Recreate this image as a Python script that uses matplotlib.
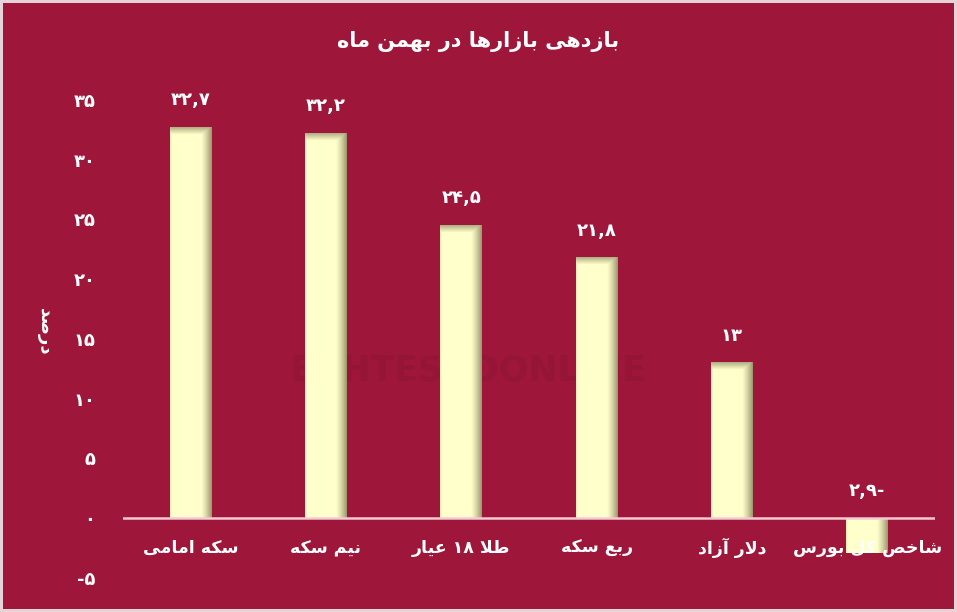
import re
import numpy as np
import matplotlib
matplotlib.use("Agg")
import matplotlib.pyplot as plt

# --- data ---
categories = ["سکه امامی", "نیم سکه", "طلا ۱۸ عیار", "ربع سکه", "دلار آزاد", "شاخص کل بورس"]
values = [32.7, 32.2, 24.5, 21.8, 13, -2.9]
yticks = [-5, 0, 5, 10, 15, 20, 25, 30, 35]
title = "بازدهی بازارها در بهمن ماه"
ylabel = "درصد"

BG = "#9e1639"
BAR = np.array([255, 255, 204]) / 255.0
DARK = np.array([105, 100, 62]) / 255.0

# --- simple persian shaping (matplotlib has no complex text layout) ---
# char: (isolated, final, initial, medial) ; None for non-joining letters
FORMS = {
    "ا": ("\uFE8D", "\uFE8E", None, None),
    "آ": ("\uFE81", "\uFE82", None, None),
    "ب": ("\uFE8F", "\uFE90", "\uFE91", "\uFE92"),
    "ت": ("\uFE95", "\uFE96", "\uFE97", "\uFE98"),
    "خ": ("\uFEA5", "\uFEA6", "\uFEA7", "\uFEA8"),
    "د": ("\uFEA9", "\uFEAA", None, None),
    "ر": ("\uFEAD", "\uFEAE", None, None),
    "ز": ("\uFEAF", "\uFEB0", None, None),
    "س": ("\uFEB1", "\uFEB2", "\uFEB3", "\uFEB4"),
    "ش": ("\uFEB5", "\uFEB6", "\uFEB7", "\uFEB8"),
    "ص": ("\uFEB9", "\uFEBA", "\uFEBB", "\uFEBC"),
    "ط": ("\uFEC1", "\uFEC2", "\uFEC3", "\uFEC4"),
    "ع": ("\uFEC9", "\uFECA", "\uFECB", "\uFECC"),
    "ق": ("\uFED5", "\uFED6", "\uFED7", "\uFED8"),
    "ل": ("\uFEDD", "\uFEDE", "\uFEDF", "\uFEE0"),
    "م": ("\uFEE1", "\uFEE2", "\uFEE3", "\uFEE4"),
    "ن": ("\uFEE5", "\uFEE6", "\uFEE7", "\uFEE8"),
    "ه": ("\uFEE9", "\uFEEA", "\uFEEB", "\uFEEC"),
    "و": ("\uFEED", "\uFEEE", None, None),
    "ک": ("\uFB8E", "\uFB8F", "\uFB90", "\uFB91"),
    "ی": ("\uFBFC", "\uFBFD", "\uFBFE", "\uFBFF"),
}
LAM_ALEF = {"ا": ("\uFEFB", "\uFEFC"), "آ": ("\uFEF5", "\uFEF6")}


def joins_next(c):
    return c in FORMS and FORMS[c][2] is not None


def shape(text):
    out = []
    chars = list(text)
    i = 0
    while i < len(chars):
        c = chars[i]
        prev = chars[i - 1] if i > 0 else ""
        link_prev = joins_next(prev)
        if c == "ل" and i + 1 < len(chars) and chars[i + 1] in LAM_ALEF:
            out.append(LAM_ALEF[chars[i + 1]][1 if link_prev else 0])
            i += 2
            continue
        if c not in FORMS:
            out.append(c)
            i += 1
            continue
        nxt = chars[i + 1] if i + 1 < len(chars) else ""
        link_next = joins_next(c) and nxt in FORMS
        iso, fin, ini, med = FORMS[c]
        if link_prev and link_next:
            out.append(med)
        elif link_prev:
            out.append(fin)
        elif link_next:
            out.append(ini)
        else:
            out.append(iso)
        i += 1
    return "".join(out)


def fa(text):
    shaped = shape(text)
    runs = re.findall(r"[\u06F0-\u06F90-9,]+|[^\u06F0-\u06F90-9,]+", shaped)
    return "".join(r if re.match(r"[\u06F0-\u06F90-9]", r) else r[::-1] for r in reversed(runs))


def fa_num(v, minus_right=False):
    s = ("%g" % abs(v)).replace(".", ",")
    s = s.translate(str.maketrans("0123456789", "۰۱۲۳۴۵۶۷۸۹"))
    if v < 0:
        s = s + "-" if minus_right else "-" + s
    return s


plt.rcParams["font.family"] = ["DejaVu Sans"]

fig = plt.figure(figsize=(9.57, 6.12), dpi=100, facecolor=BG)
fig.patch.set_edgecolor("#e6d3d8")
fig.patch.set_linewidth(3)
ax = fig.add_axes([0.1285, 0.0556, 0.8485, 0.781])
ax.set_facecolor(BG)

x = np.arange(len(categories))
w = 0.31
ax.set_xlim(-0.5, len(categories) - 0.5)
ax.set_ylim(-5, 35)

# faint watermark
ax.text(2.05, 12.4, "EGHTESADONLINE", ha="center", va="center", fontsize=25,
        fontweight="bold", color="#951537", zorder=0.5)

# bars with shaded edges
px_per_unit = ax.get_window_extent().height / 40.0
bars = ax.bar(x, values, width=w, color=BAR, zorder=2)
for b, v in zip(bars, values):
    x0 = b.get_x()
    x1 = x0 + b.get_width()
    lo, hi = min(0, v), max(0, v)
    ny = max(int(abs(v) * px_per_unit), 2)
    nx = 44
    fx = np.linspace(0, 1, nx)
    right = np.clip((fx - 0.74) / 0.26, 0, 1) ** 1.3 * 0.65
    left = np.clip((0.04 - fx) / 0.04, 0, 1) * 0.12
    dy = np.arange(ny)
    top = np.clip(1 - dy / 7.0, 0, 1) * 0.5 if v > 0 else np.zeros(ny)
    d = np.maximum(np.maximum(right, left)[None, :], top[:, None])
    img = BAR[None, None, :] * (1 - d[..., None]) + DARK[None, None, :] * d[..., None]
    ax.imshow(img, extent=(x0, x1, lo, hi), aspect="auto", origin="upper",
              interpolation="bilinear", zorder=2.5)
    ax.annotate(fa_num(v, minus_right=True), xy=(b.get_x() + b.get_width() / 2, hi),
                xytext=(0, 27), textcoords="offset pixels", ha="center", va="center",
                fontsize=13, fontweight="bold", color="white", zorder=4)

ax.set_xlim(-0.5, len(categories) - 0.5)
ax.set_ylim(-5, 35)

ax.axhline(0, color="#f2c9d2", lw=1.8, zorder=3)

for i, c in enumerate(categories):
    ax.text(i, -2.5, fa(c), ha="center", va="center", fontsize=12.5,
            fontweight="bold", color="white", zorder=4)

ax.set_xticks([])
ax.set_yticks(yticks)
ax.set_yticklabels([fa_num(t) for t in yticks], fontsize=13, fontweight="bold", color="white")
ax.tick_params(axis="y", length=0, pad=20)
for s in ax.spines.values():
    s.set_visible(False)

fig.text(0.5, 1 - 42 / 612.0, fa(title), ha="center", va="center", fontsize=15,
         fontweight="bold", color="white")
fig.text(0.047, 1 - 332 / 612.0, fa(ylabel), ha="center", va="center", rotation=-90,
         fontsize=13, fontweight="bold", color="white")

fig.savefig("out.png", dpi=100, facecolor=fig.get_facecolor(), edgecolor=fig.patch.get_edgecolor())
